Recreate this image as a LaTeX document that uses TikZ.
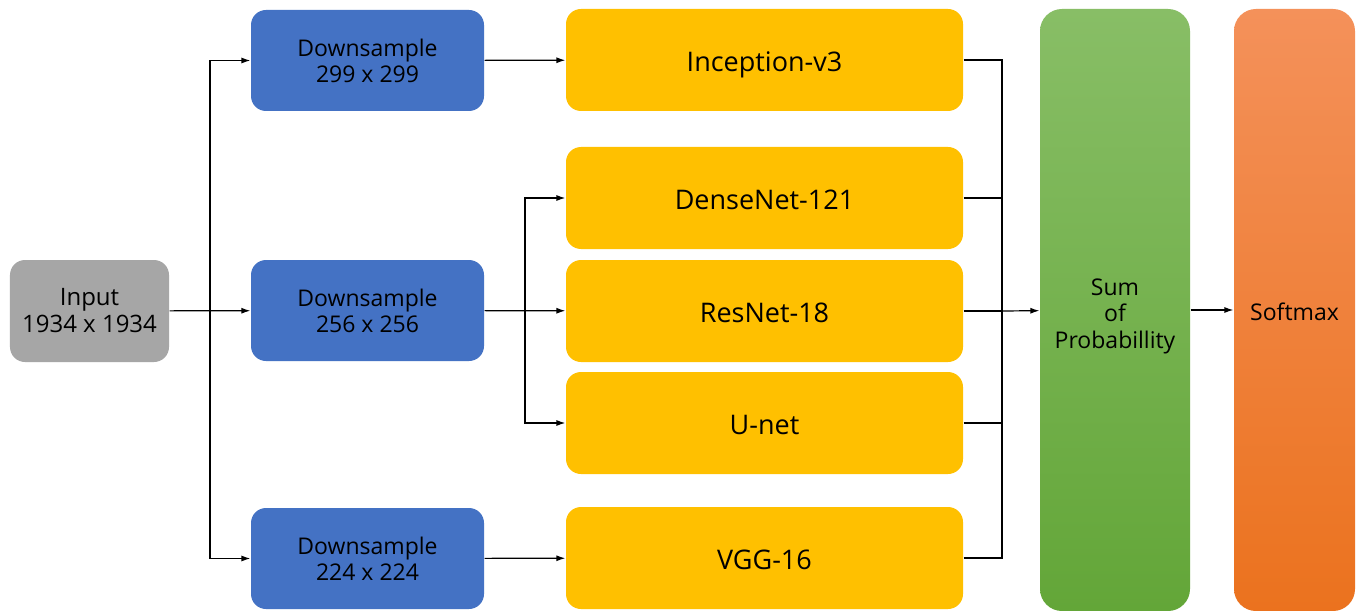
\documentclass[tikz,border=0pt]{standalone}
\usepackage{fontspec}
\setmainfont{Open Sans}
\usetikzlibrary{arrows.meta}

\definecolor{inputgray}{HTML}{A6A6A6}
\definecolor{dsblue}{HTML}{4472C4}
\definecolor{netyellow}{HTML}{FFC000}
\definecolor{sumtop}{HTML}{88BE66}
\definecolor{summid}{HTML}{70B244}
\definecolor{sumbot}{HTML}{63A638}
\definecolor{smtop}{HTML}{F4915A}
\definecolor{smmid}{HTML}{F87F2C}
\definecolor{smbot}{HTML}{EB721E}

\tikzset{
	box/.style={rounded corners=15bp, inner sep=0pt, align=center, text=black},
	inbox/.style={box, fill=inputgray, minimum width=159bp, minimum height=102bp, font=\fontsize{24bp}{27bp}\selectfont},
	dsbox/.style={box, fill=dsblue, minimum width=233bp, minimum height=101bp, font=\fontsize{23bp}{26bp}\selectfont},
	netbox/.style={box, fill=netyellow, minimum width=397bp, minimum height=102bp, text height=23bp, text depth=0pt, font=\fontsize{27bp}{32bp}\selectfont},
	tallbox/.style={box, rounded corners=22bp, minimum height=602bp},
	talltext/.style={align=center, text=black, font=\fontsize{23bp}{26.5bp}\selectfont},
	arr/.style={-{Latex[length=9bp,width=6bp]}}
}

\begin{document}
\begin{tikzpicture}[x=1bp, y=-1bp, line width=1.2bp]
		% 画布范围
		\fill[white] (0,0) rectangle (1359,611);
		\useasboundingbox (0,0) rectangle (1359,611);
		
		% 输入
		\node[inbox] (input) at (89.5,311) {Input\\1934 x 1934};
		
		% 三种下采样
		\node[dsbox] (ds1) at (367.5,60.5) {Downsample\\299 x 299};
		\node[dsbox] (ds2) at (367.5,310.5) {Downsample\\256 x 256};
		\node[dsbox] (ds3) at (367.5,558.5) {Downsample\\224 x 224};
		
		% 各个网络
		\node[netbox] (incep) at (764.5,60) {Inception-v3};
		\node[netbox] (dense) at (764.5,198) {DenseNet-121};
		\node[netbox] (resnet) at (764.5,311) {ResNet-18};
		\node[netbox] (unet) at (764.5,423) {U-net};
		\node[netbox] (vgg) at (764.5,558) {VGG-16};
		
		% 求和与 softmax（渐变），文字略偏下
		\node[tallbox, minimum width=150bp, top color=sumtop, middle color=summid, bottom color=sumbot,
			label={[talltext, yshift=-6bp]center:Sum\\of\\Probabillity}] (sum) at (1115,310) {};
		\node[tallbox, minimum width=121bp, top color=smtop, middle color=smmid, bottom color=smbot,
			label={[talltext, yshift=-2bp]center:Softmax}] (softmax) at (1294.5,310) {};
		
		% 分叉点与汇合点
		\coordinate (split1) at (210,311);
		\coordinate (split2) at (525,311);
		\coordinate (merge) at (1002,311);
		
		% 输入 -> 下采样
		\draw[arr] (input) -- (ds2);
		\draw[arr] (split1) |- (ds1);
		\draw[arr] (split1) |- (ds3);
		
		% 下采样 -> 网络
		\draw[arr] (ds1) -- (incep);
		\draw[arr] (ds2) -- (resnet);
		\draw[arr] (split2) |- (dense);
		\draw[arr] (split2) |- (unet);
		\draw[arr] (ds3) -- (vgg);
		
		% 网络 -> 求和
		\draw (incep) -| (merge);
		\draw (dense) -| (merge);
		\draw (resnet) -- (merge);
		\draw (unet) -| (merge);
		\draw (vgg) -| (merge);
		\draw[arr] (merge) -- (sum);
		\draw[arr] (sum) -- (softmax);
	\end{tikzpicture}
\end{document}
